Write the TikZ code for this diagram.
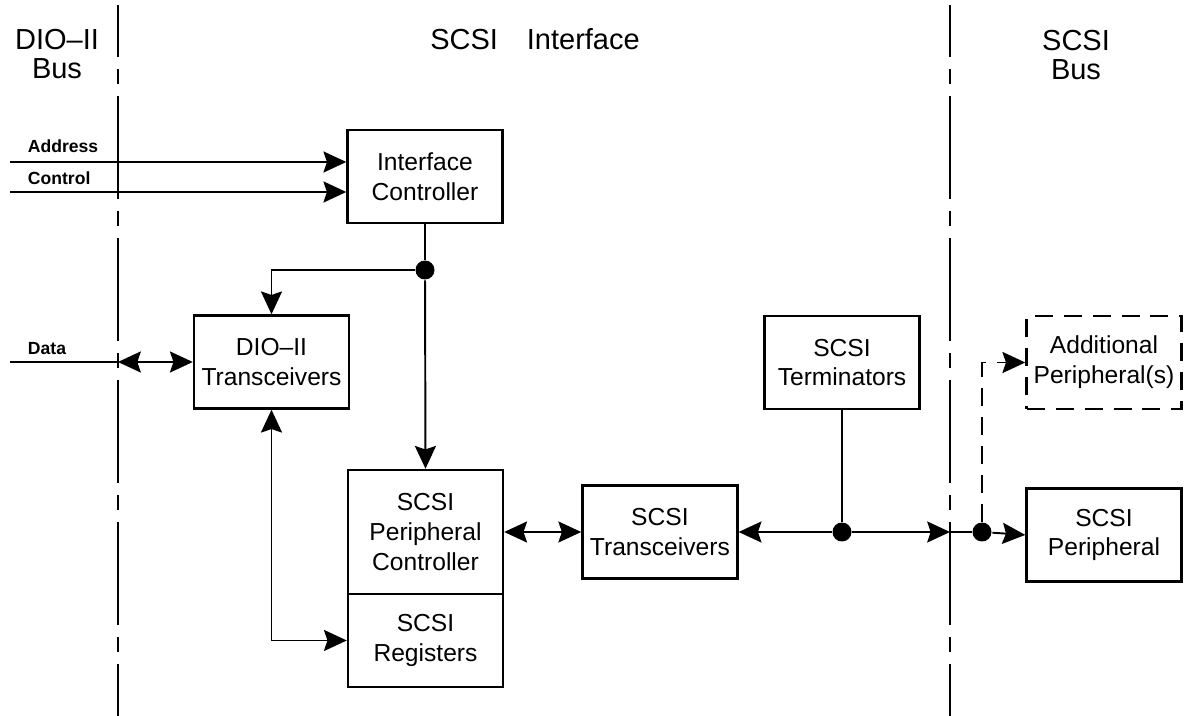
\documentclass[tikz,border=0pt]{standalone}
\usepackage{fontspec}
\setmainfont{Liberation Sans}
\usetikzlibrary{arrows.meta,positioning}

\begin{document}
\begin{tikzpicture}[x=0.02cm,y=-0.02cm,node distance=1.54cm,line width=1.1pt,
        >={Stealth[length=13pt,width=12pt,inset=2pt]},
        p/.style={draw,line width=1.4pt,minimum width=3.1cm,minimum height=1.86cm,
          inner sep=0pt,font=\fontsize{14}{17}\selectfont,align=center},
        hd/.style={font=\fontsize{16.5}{17}\selectfont,align=center},
        lb/.style={font=\fontsize{10}{12}\selectfont\bfseries,anchor=base west,inner sep=0pt},
        dot/.style={circle,fill,inner sep=0pt,minimum size=0.38cm},
        bus/.style={dash pattern=on 2.06cm off 0.24cm on 0.3cm off 0.24cm,dash phase=1.02cm},
        ext/.style={dash pattern=on 0.36cm off 0.22cm}]
        \useasboundingbox (0,0) rectangle (1188,716);
        % bus boundaries and headings
        \draw[bus] (118,5) -- (118,716);
        \draw[bus] (950,5) -- (950,716);
        \node[hd] (hdio) at (57,54) {DIO–II\\Bus};
        \node[hd,anchor=base] (hif) at (535,50) {SCSI\quad Interface};
        \node[hd] (hscsi) at (1076,55) {SCSI\\Bus};
        % blocks
        \node[p] (ic) at (425,176.5) {Interface\\Controller};
        \node[p] (dio) at (271.5,362) {DIO–II\\Transceivers};
        \node[p,minimum height=2.48cm] (spc) at (425.5,532) {SCSI\\Peripheral\\Controller};
        \node[p,below=-1.4pt of spc] (reg) {SCSI\\Registers};
        \node[p,right=of spc] (xcv) {SCSI\\Transceivers};
        \node[p] (term) at (842,362.5) {SCSI\\Terminators};
        \node[p,ext] (addl) at (1104,362.5) {Additional\\Peripheral(s)};
        \node[p,below=of addl] (per) {SCSI\\Peripheral};
        % DIO-II side signals
        \coordinate (addr) at (10,162);
        \coordinate (ctrl) at (10,192);
        \coordinate (data) at (10,362);
        \coordinate (ldiv) at (118,362);
        \node[lb] (laddr) at (27,153) {Address};
        \node[lb] (lctrl) at (27,185) {Control};
        \node[lb] (ldata) at (27,355) {Data};
        \draw[->] (addr) -- (addr -| ic.west);
        \draw[->] (ctrl) -- (ctrl -| ic.west);
        \draw (data) -- (ldiv);
        \draw[<->] (ldiv) -- (dio.west);
        % internal connections
        \node[dot] (j1) at (ic.south |- 0,270) {};
        \draw (ic.south) -- (j1);
        \draw[->] (j1) -| (dio.north);
        \draw[->] (j1) -- (spc.north);
        \draw[<->] (dio.south) |- (reg.west);
        \draw[<->] (spc.east) -- (xcv.west);
        % SCSI bus
        \node[dot] (j2) at (term.south |- xcv.east) {};
        \coordinate (rdiv) at (950,532);
        \node[dot] (j3) at (982,532) {};
        \draw (term.south) -- (j2);
        \draw[<-] (xcv.east) -- (j2);
        \draw[->] (j2) -- (rdiv);
        \draw (rdiv) -- (j3);
        \draw[->] (j3) -- (per.west);
        \draw[ext,->] (j3) |- (addl.west);
      \end{tikzpicture}
\end{document}
